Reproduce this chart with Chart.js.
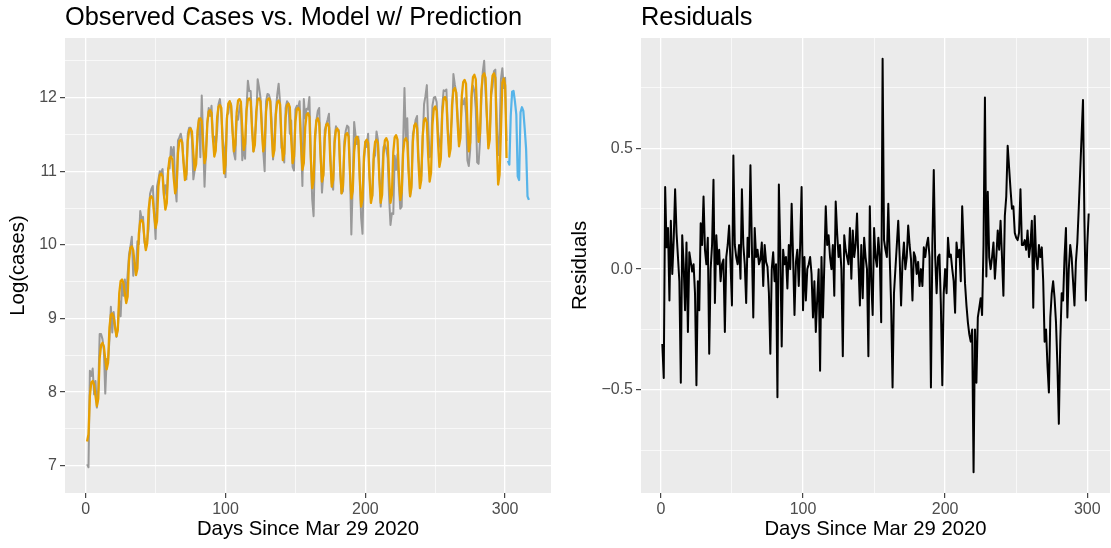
<!DOCTYPE html>
<html><head><meta charset="utf-8">
<script src="https://cdn.jsdelivr.net/npm/chart.js@4.4.1/dist/chart.umd.min.js"></script>
<style>
html,body{margin:0;padding:0;background:#fff;}
#wrap{position:relative;width:1111px;height:548px;overflow:hidden;}
#c1{position:absolute;left:0;top:0;}
#c2{position:absolute;left:556px;top:0;}
</style></head><body>
<div id="wrap"><canvas id="c1" width="556" height="548"></canvas><canvas id="c2" width="555" height="548"></canvas></div>
<script>
// ---- data (day 1 .. 301 fitted/observed, 302..317 prediction) ----
const observed = [
7.02,6.98,8.29,8.22,8.32,7.97,8.15,
7.79,8.03,8.79,8.79,8.72,8.57,7.98,
8.45,8.42,8.71,9.16,8.81,9.09,8.91,
8.75,8.87,9.24,9.03,9.48,9.31,9.53,
9.31,9.60,9.87,9.98,10.11,9.58,9.75,
9.69,10.05,10.01,10.46,10.36,10.38,10.04,
9.95,10.06,10.22,10.69,10.76,10.80,10.42,
10.08,10.79,10.89,11.00,10.99,11.03,10.64,
10.81,10.67,11.04,11.04,11.33,11.21,11.33,
10.80,10.59,11.42,11.46,11.51,11.41,11.14,
10.99,10.89,11.51,11.59,11.59,11.44,10.89,
11.02,11.17,11.50,11.72,11.19,12.03,11.43,
10.79,11.28,11.67,11.86,11.75,11.89,11.45,
11.47,11.33,11.54,11.91,11.98,11.79,11.44,
11.31,10.92,11.76,11.79,11.95,11.91,11.59,
11.25,11.16,11.75,11.70,11.86,11.94,11.15,
11.34,11.17,11.84,12.23,12.09,12.09,11.61,
11.27,11.46,11.70,12.25,12.14,12.00,11.66,
11.27,11.00,11.95,12.05,12.04,11.97,11.69,
11.16,11.45,11.82,12.04,12.19,11.94,11.32,
11.25,11.12,11.86,11.95,11.92,11.51,11.69,
11.06,11.01,11.84,11.89,11.87,11.95,11.41,
10.80,11.98,11.72,11.85,11.84,12.01,11.23,
10.62,10.39,11.38,11.69,11.82,11.86,11.25,
10.71,10.98,11.56,11.63,11.70,11.78,11.23,
10.83,10.75,11.45,11.61,11.56,11.56,10.98,
10.70,10.73,11.41,11.55,11.62,11.60,11.04,
10.14,10.83,11.67,11.49,11.37,11.47,10.96,
10.37,10.15,11.10,11.40,11.33,11.51,10.96,
10.63,10.67,11.17,11.22,11.54,11.43,10.99,
10.52,10.94,11.33,11.36,11.30,11.18,10.65,
10.27,10.43,10.42,11.21,11.02,11.23,10.80,
10.49,10.52,11.34,12.13,11.42,11.72,11.03,
10.66,10.83,11.51,11.58,11.70,11.75,11.20,
10.97,10.93,11.37,11.91,12.02,12.17,11.62,
11.19,11.23,11.89,12.00,12.01,11.94,11.54,
11.39,11.27,11.87,12.10,12.09,12.11,11.57,
11.30,11.51,11.74,12.32,12.18,12.07,11.76,
11.39,11.54,11.97,11.91,11.99,11.79,11.15,
11.07,11.29,12.00,12.16,12.09,11.85,11.12,
11.10,11.41,11.97,12.35,12.50,12.07,11.72,
11.41,11.48,12.03,12.15,12.36,12.38,11.67,
11.22,11.50,12.25,12.40,12.13,12.27,11.41
];
const fitted = [
7.33,7.43,7.95,8.13,8.15,8.10,7.95,
7.81,7.91,8.46,8.64,8.67,8.62,8.45,
8.31,8.40,8.88,9.05,9.07,9.02,8.88,
8.76,8.85,9.34,9.51,9.53,9.48,9.34,
9.21,9.30,9.79,9.96,9.98,9.93,9.75,
9.59,9.68,10.15,10.32,10.34,10.30,10.09,
9.93,10.02,10.48,10.64,10.66,10.62,10.40,
10.23,10.32,10.79,10.95,10.97,10.93,10.68,
10.48,10.57,11.02,11.18,11.20,11.16,10.90,
10.70,10.79,11.25,11.41,11.43,11.39,11.10,
10.88,10.96,11.41,11.56,11.58,11.54,11.24,
11.02,11.10,11.55,11.70,11.72,11.68,11.35,
11.11,11.20,11.65,11.81,11.83,11.79,11.45,
11.20,11.28,11.73,11.88,11.90,11.86,11.34,
10.97,11.09,11.71,11.92,11.95,11.89,11.54,
11.27,11.36,11.80,11.96,11.98,11.94,11.57,
11.29,11.37,11.82,11.97,11.99,11.95,11.56,
11.27,11.36,11.81,11.97,11.99,11.95,11.56,
11.27,11.36,11.81,11.97,11.99,11.95,11.52,
11.20,11.29,11.77,11.94,11.96,11.91,11.47,
11.15,11.24,11.73,11.90,11.92,11.87,11.43,
11.11,11.20,11.67,11.84,11.86,11.82,11.36,
11.02,11.11,11.60,11.77,11.79,11.74,11.18,
10.77,10.88,11.48,11.69,11.72,11.66,11.20,
10.86,10.95,11.45,11.63,11.65,11.60,11.13,
10.79,10.88,11.38,11.56,11.58,11.53,11.05,
10.70,10.80,11.32,11.50,11.52,11.47,10.99,
10.63,10.73,11.26,11.44,11.47,11.42,10.90,
10.52,10.63,11.20,11.40,11.43,11.38,10.91,
10.57,10.67,11.22,11.40,11.43,11.38,10.91,
10.57,10.68,11.23,11.42,11.45,11.40,10.92,
10.57,10.68,11.26,11.46,11.49,11.43,10.96,
10.61,10.71,11.24,11.42,11.45,11.40,10.98,
10.66,10.78,11.40,11.62,11.65,11.59,11.12,
10.77,10.88,11.48,11.69,11.72,11.66,11.20,
10.86,10.98,11.63,11.85,11.88,11.82,11.39,
11.06,11.17,11.77,11.98,12.01,11.95,11.52,
11.20,11.31,11.90,12.10,12.13,12.07,11.66,
11.34,11.45,12.02,12.21,12.24,12.19,11.66,
11.27,11.39,12.05,12.28,12.31,12.25,11.76,
11.40,11.51,12.10,12.30,12.33,12.27,11.72,
11.31,11.43,12.08,12.30,12.33,12.27,11.42,
10.82,10.95,11.55,12.20,12.26,12.17,11.18
];
const residuals = [
-0.31,-0.45,0.34,0.09,0.17,-0.13,0.20,
-0.02,0.12,0.33,0.15,0.05,-0.05,-0.47,
0.14,0.02,-0.17,0.11,-0.26,0.07,0.03,
-0.01,0.02,-0.10,-0.48,-0.05,-0.17,0.19,
0.10,0.30,0.08,0.02,0.13,-0.35,0.00,
0.10,0.37,-0.14,0.14,0.02,0.08,-0.05,
0.02,0.04,-0.26,0.05,0.10,0.18,0.02,
-0.15,0.47,0.10,0.05,0.02,0.10,-0.04,
0.33,0.10,0.02,-0.14,0.13,0.05,0.43,
0.10,-0.20,0.17,0.05,0.08,0.02,0.04,
0.11,-0.07,0.10,0.03,0.01,-0.10,-0.35,
0.00,0.07,-0.05,0.02,-0.53,0.35,0.08,
-0.32,0.08,0.02,0.05,-0.08,0.10,0.00,
0.27,0.05,-0.19,0.03,0.08,-0.07,0.10,
0.34,-0.17,0.05,-0.13,0.00,0.02,0.05,
-0.02,-0.20,-0.05,-0.26,-0.12,0.00,-0.42,
0.05,-0.20,0.02,0.26,0.10,0.14,0.05,
0.00,0.10,-0.11,0.28,0.15,0.05,0.10,
0.00,-0.36,0.14,0.08,0.05,0.02,0.17,
-0.04,0.16,0.05,0.10,0.23,0.03,-0.15,
0.10,-0.12,0.13,0.05,0.00,-0.36,0.26,
-0.05,-0.19,0.17,0.05,0.01,0.13,0.05,
-0.22,0.87,0.12,0.08,0.05,0.27,0.05,
-0.15,-0.49,-0.10,0.00,0.10,0.20,0.05,
-0.15,0.03,0.11,0.00,0.05,0.18,0.10,
0.04,-0.13,0.07,0.05,-0.02,0.03,-0.07,
0.00,-0.07,0.09,0.05,0.10,0.13,0.05,
-0.49,0.10,0.41,0.05,-0.10,0.05,0.06,
-0.15,-0.48,-0.10,0.00,-0.10,0.13,0.05,
0.06,0.00,-0.05,-0.18,0.11,0.05,0.08,
-0.05,0.26,0.10,-0.06,-0.15,-0.22,-0.27,
-0.30,-0.25,-0.84,-0.25,-0.47,-0.20,-0.16,
-0.12,-0.19,0.10,0.71,-0.03,0.32,0.05,
0.00,0.05,0.11,-0.04,0.05,0.16,0.08,
0.20,0.05,-0.11,0.22,0.30,0.51,0.42,
0.33,0.25,0.26,0.15,0.13,0.12,0.15,
0.33,0.10,0.10,0.12,0.08,0.16,0.05,
0.10,0.20,-0.16,0.22,0.05,0.00,0.10,
0.05,0.09,-0.05,-0.30,-0.25,-0.40,-0.51,
-0.20,-0.10,-0.05,-0.12,-0.22,-0.40,-0.64,
-0.30,-0.10,-0.13,0.05,0.17,-0.20,0.00,
0.10,0.05,-0.05,-0.15,0.03,0.11,0.25,
0.40,0.55,0.70,0.20,-0.13,0.10,0.23
];
const predDays = [302,303,304,305,306,307,308,309,310,311,312,313,314,315,316,317];
const predicted = [11.14,11.09,11.75,12.08,12.09,11.95,11.77,10.93,10.88,11.80,11.87,11.82,11.58,11.30,10.66,10.61];
const xTickLabels = [0,100,200,300];
const xGridLines = [0,50,100,150,200,250,300];
const leftYTicks = [7,8,9,10,11,12];
const leftYGrid = [7,7.5,8,8.5,9,9.5,10,10.5,11,11.5,12,12.5];
const rightYTicks = [-0.5,0,0.5];
const rightYGrid = [-0.75,-0.5,-0.25,0,0.25,0.5,0.75];

// ---- helpers ----
const FONT = '"Liberation Sans", Arial, Helvetica, sans-serif';
Chart.defaults.font.family = FONT;
const days = fitted.map((_, i) => i + 1);
const pts = (xs, ys) => ys.map((y, i) => ({x: xs[i], y}));
const near = (list, v) => list.some(t => Math.abs(t - v) < 1e-9);
const fmtRight = v => Math.abs(v) < 1e-9 ? '0.0' : (v < 0 ? '\u2212' + Math.abs(v).toFixed(1) : v.toFixed(1));

const panelDecor = {
  id: 'panelDecor',
  beforeDraw(chart, args, opts) {
    const {ctx, chartArea: a} = chart;
    ctx.save();
    ctx.fillStyle = '#EBEBEB';
    ctx.fillRect(a.left, a.top, a.right - a.left, a.bottom - a.top);
    ctx.restore();
  },
  afterDraw(chart, args, opts) {
    const {ctx, chartArea: a} = chart;
    ctx.save();
    ctx.font = '25.4px ' + FONT;
    ctx.fillStyle = '#000000';
    ctx.textAlign = 'left';
    ctx.textBaseline = 'alphabetic';
    ctx.fillText(opts.text, a.left, 24.5);
    ctx.restore();
  }
};

function xAxis(min, max) {
  return {
    type: 'linear', min, max,
    afterBuildTicks: s => { s.ticks = xGridLines.map(v => ({value: v})); },
    afterFit: s => { s.height = 55; },
    ticks: {autoSkip: false, maxRotation: 0, minRotation: 0, padding: 2, color: '#4D4D4D',
      font: {size: 16}, callback: v => near(xTickLabels, v) ? String(v) : ''},
    grid: {color: '#FFFFFF', lineWidth: c => near(xTickLabels, c.tick.value) ? 1.3 : 0.65,
      drawTicks: true, tickLength: 5, tickWidth: 1.1,
      tickColor: c => near(xTickLabels, c.tick.value) ? '#333333' : 'rgba(0,0,0,0)'},
    border: {display: false},
    title: {display: true, text: 'Days Since Mar 29 2020', color: '#000000', font: {size: 20.3}, padding: {top: 0, bottom: 6}}
  };
}
function yAxis(min, max, grid, labels, fmt, width, title, tpad) {
  return {
    type: 'linear', min, max,
    afterBuildTicks: s => { s.ticks = grid.map(v => ({value: v})); },
    afterFit: s => { s.width = width; },
    ticks: {autoSkip: false, padding: 3, color: '#4D4D4D', font: {size: 16},
      callback: v => near(labels, v) ? fmt(v) : ''},
    grid: {color: '#FFFFFF', lineWidth: c => near(labels, c.tick.value) ? 1.3 : 0.65,
      drawTicks: true, tickLength: 5, tickWidth: 1.1,
      tickColor: c => near(labels, c.tick.value) ? '#333333' : 'rgba(0,0,0,0)'},
    border: {display: false},
    title: {display: true, text: title, color: '#000000', font: {size: 20.3}, padding: {top: tpad, bottom: 0}}
  };
}
const lineDs = (label, data, color, order, width) => ({
  label, data, borderColor: color, backgroundColor: color, borderWidth: width,
  pointRadius: 0, tension: 0, fill: false, order, borderJoinStyle: 'round'
});

new Chart(document.getElementById('c1'), {
  type: 'line',
  data: {datasets: [
    lineDs('Model', pts(days, fitted), '#E69F00', 1, 2.3),
    lineDs('Prediction', pts(predDays, predicted), '#56B4E9', 2, 2.2),
    lineDs('Observed', pts(days, observed), '#999999', 3, 2)
  ]},
  options: {
    responsive: false, animation: false, devicePixelRatio: 1,
    layout: {padding: {top: 38, right: 5, bottom: 0, left: 0}},
    plugins: {legend: {display: false}, tooltip: {enabled: false},
      panelDecor: {text: 'Observed Cases vs. Model w/ Prediction'}},
    scales: {
      x: xAxis(-14.8, 332.8),
      y: yAxis(6.63, 12.81, leftYGrid, leftYTicks, v => String(v), 65, 'Log(cases)', 6)
    }
  },
  plugins: [panelDecor]
});

new Chart(document.getElementById('c2'), {
  type: 'line',
  data: {datasets: [lineDs('Residuals', pts(days, residuals), '#000000', 1, 2)]},
  options: {
    responsive: false, animation: false, devicePixelRatio: 1,
    layout: {padding: {top: 38, right: 1, bottom: 0, left: 0}},
    plugins: {legend: {display: false}, tooltip: {enabled: false},
      panelDecor: {text: 'Residuals'}},
    scales: {
      x: xAxis(-14, 316),
      y: yAxis(-0.926, 0.956, rightYGrid, rightYTicks, fmtRight, 85, 'Residuals', 12)
    }
  },
  plugins: [panelDecor]
});
</script>
</body></html>
